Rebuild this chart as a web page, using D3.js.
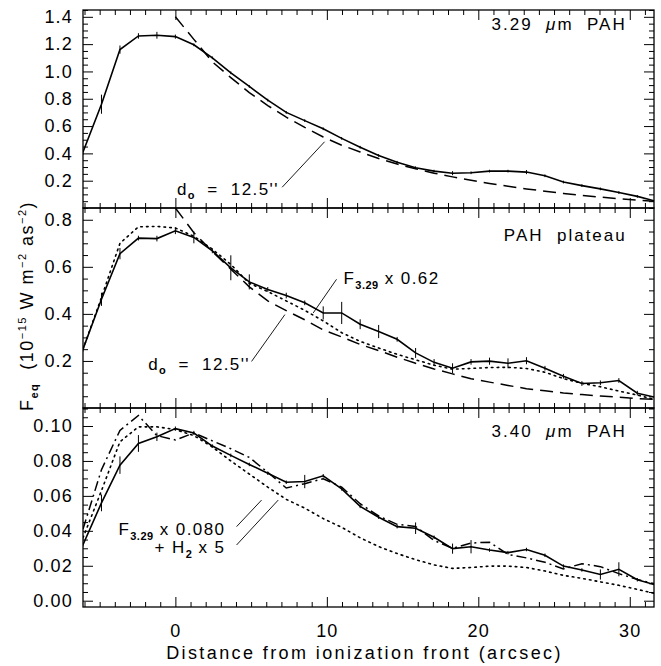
<!DOCTYPE html>
<html>
<head>
<meta charset="utf-8">
<script src="https://cdn.jsdelivr.net/npm/d3@7"></script>
<style>
html,body{margin:0;padding:0;background:#fff;}
svg{display:block;font-family:"Liberation Sans",Helvetica,Arial,sans-serif;}
.tick text{font-size:18px;letter-spacing:1.2px;fill:#000;}
.ann{font-size:17px;letter-spacing:2px;fill:#000;white-space:pre;}
.ann.note{letter-spacing:1.4px;}
</style>
</head>
<body>
<svg id="chart" width="661" height="666"></svg>
<script>
// ── DATA ──────────────────────────────────────────────────────────────────
// sample positions along the cut (arcsec), one every ~1.22"
var XPOS=[-6.10,-4.88,-3.66,-2.44,-1.22,0.00,1.22,2.44,3.66,4.88,6.10,7.32,8.54,9.76,10.98,12.20,
  13.42,14.64,15.86,17.08,18.30,19.52,20.74,21.96,23.18,24.40,25.62,26.84,28.06,29.28,30.50,31.72];
// model curve (d_o = 12.5") only defined from the front outwards
var XMOD=XPOS.slice(5);

// 3.29 um PAH
var PAH329=[0.41,0.76,1.16,1.26,1.265,1.255,1.195,1.10,0.99,0.89,0.79,0.70,0.64,0.58,0.51,0.445,
  0.385,0.335,0.295,0.27,0.255,0.258,0.27,0.27,0.263,0.236,0.19,0.164,0.14,0.113,0.085,0.05];
var PAH329_ERR=[0.02,0.07,0.03,0.02,0.025,0.015,0.01,0.01,0.01,0.01,0.01,0.01,0.01,0.01,0.01,0.01,
  0.01,0.01,0.01,0.01,0.015,0.01,0.01,0.01,0.015,0.01,0.01,0.01,0.01,0.01,0.01,0.01];
var PAH329_MOD=[1.40,1.235,1.07,0.955,0.845,0.75,0.665,0.59,0.52,0.46,0.41,0.362,0.322,0.287,0.255,
  0.228,0.203,0.18,0.159,0.14,0.123,0.107,0.093,0.08,0.068,0.057,0.048];

// PAH plateau
var PLAT=[0.25,0.462,0.656,0.722,0.72,0.753,0.725,0.668,0.596,0.536,0.504,0.478,0.447,0.404,0.404,0.356,
  0.325,0.292,0.234,0.194,0.169,0.196,0.199,0.19,0.201,0.169,0.135,0.104,0.107,0.117,0.063,0.045];
var PLAT_ERR=[0.01,0.028,0.024,0.01,0.012,0.014,0.025,0.01,0.053,0.032,0.01,0.012,0.01,0.028,0.047,0.021,
  0.028,0.01,0.021,0.014,0.021,0.012,0.015,0.021,0.015,0.01,0.01,0.01,0.01,0.01,0.01,0.01];
var PLAT_SCALED=[0.25,0.47,0.70,0.77,0.772,0.765,0.73,0.675,0.61,0.53,0.495,0.455,0.415,0.37,0.32,0.283,
  0.255,0.228,0.205,0.182,0.165,0.168,0.172,0.173,0.168,0.152,0.125,0.105,0.09,0.072,0.055,0.035];
var PLAT_MOD=[0.85,0.745,0.665,0.59,0.515,0.455,0.414,0.375,0.332,0.302,0.27,0.244,0.216,0.19,0.166,
  0.145,0.124,0.11,0.096,0.082,0.073,0.064,0.057,0.051,0.046,0.040,0.036];

// 3.40 um PAH
var PAH340=[0.032,0.056,0.0776,0.090,0.0938,0.0985,0.096,0.0885,0.0832,0.078,0.073,0.0678,0.0682,0.0715,
  0.064,0.054,0.0478,0.0424,0.0415,0.0363,0.0298,0.0309,0.029,0.0275,0.0293,0.026,0.0198,0.0176,0.015,
  0.018,0.012,0.009];
var PAH340_ERR=[0.001,0.0048,0.005,0.0048,0.0024,0.0012,0.0012,0.001,0.001,0.001,0.001,0.001,0.0038,0.001,
  0.001,0.001,0.001,0.001,0.0033,0.001,0.0029,0.0038,0.001,0.001,0.001,0.001,0.001,0.001,0.0029,0.004,
  0.001,0.001];
var PAH340_SCALED=[0.036,0.063,0.091,0.0995,0.0995,0.098,0.0945,0.088,0.080,0.0725,0.065,0.058,0.053,
  0.047,0.042,0.036,0.031,0.027,0.0235,0.0205,0.0185,0.019,0.0198,0.0198,0.019,0.017,0.0145,0.0128,
  0.0108,0.0088,0.0065,0.004];
var PAH340_SUM=[0.041,0.075,0.0975,0.106,0.0945,0.092,0.096,0.0915,0.087,0.082,0.0735,0.0645,0.067,
  0.0698,0.065,0.0555,0.0485,0.0437,0.0425,0.0345,0.030,0.033,0.0335,0.0265,0.0245,0.022,0.0182,
  0.0212,0.0195,0.0155,0.0122,0.0095];

// axes
var XDOMAIN=[-6.1,31.6];
var XTICKS=[0,10,20,30];
var TOP_YDOMAIN=[0,1.45], TOP_YTICKS=[0.2,0.4,0.6,0.8,1.0,1.2,1.4];
var MID_YDOMAIN=[0,0.85], MID_YTICKS=[0.2,0.4,0.6,0.8];
var BOT_YDOMAIN=[-0.0036,0.1103], BOT_YTICKS=[0,0.02,0.04,0.06,0.08,0.10];

// ── LAYOUT ────────────────────────────────────────────────────────────────
var L=83,R=654;
var svg=d3.select("#chart");
var x=d3.scaleLinear().domain(XDOMAIN).range([L,R]);

function range(a,b,s){var o=[];for(var v=a;v<=b+1e-9;v+=s)o.push(+v.toFixed(4));return o;}
function pts(xs,ys){return xs.map(function(v,i){return [v,ys[i]];});}

var DASH_LONG="13,7", DOTS="1.6,4.2", DASHDOT="10,4,2,4";

function panel(id,top,bot,ydom,yticks,yfmt,yminor,showX){
  var y=d3.scaleLinear().domain(ydom).range([bot,top]);
  var g=svg.append("g").attr("class","panel-"+id);
  svg.append("clipPath").attr("id","clip-"+id).append("rect")
    .attr("x",L).attr("y",top).attr("width",R-L).attr("height",bot-top);

  // minor then major ticks, all pointing inwards
  var xmin=range(-6,31,1).filter(function(v){return XTICKS.indexOf(v)<0;});
  g.append("g").attr("transform","translate(0,"+bot+")")
    .call(d3.axisBottom(x).tickValues(xmin).tickSize(-5).tickSizeOuter(0).tickFormat(""));
  g.append("g").attr("transform","translate(0,"+top+")")
    .call(d3.axisTop(x).tickValues(xmin).tickSize(-5).tickSizeOuter(0).tickFormat(""));
  g.append("g").attr("transform","translate(0,"+bot+")")
    .call(d3.axisBottom(x).tickValues(XTICKS).tickSize(-10).tickSizeOuter(0).tickPadding(17)
      .tickFormat(showX?d3.format("d"):""));
  g.append("g").attr("transform","translate(0,"+top+")")
    .call(d3.axisTop(x).tickValues(XTICKS).tickSize(-10).tickSizeOuter(0).tickFormat(""));

  var ymin=yminor.filter(function(v){return yticks.every(function(t){return Math.abs(t-v)>1e-6;});});
  g.append("g").attr("transform","translate("+L+",0)")
    .call(d3.axisLeft(y).tickValues(ymin).tickSize(-5).tickSizeOuter(0).tickFormat(""));
  g.append("g").attr("transform","translate("+R+",0)")
    .call(d3.axisRight(y).tickValues(ymin).tickSize(-5).tickSizeOuter(0).tickFormat(""));
  g.append("g").attr("transform","translate("+L+",0)")
    .call(d3.axisLeft(y).tickValues(yticks).tickSize(-10).tickSizeOuter(0).tickPadding(10).tickFormat(yfmt));
  g.append("g").attr("transform","translate("+R+",0)")
    .call(d3.axisRight(y).tickValues(yticks).tickSize(-10).tickSizeOuter(0).tickFormat(""));

  g.selectAll(".domain").remove();
  g.selectAll(".tick line").attr("stroke","#000").attr("stroke-width",1);
  g.append("rect").attr("x",L).attr("y",top).attr("width",R-L).attr("height",bot-top)
    .attr("fill","none").attr("stroke","#000").attr("stroke-width",1.3);

  var plot=g.append("g").attr("clip-path","url(#clip-"+id+")");
  return {y:y,g:g,plot:plot};
}

function curve(p,data,dash,w){
  var line=d3.line().x(function(d){return x(d[0]);}).y(function(d){return p.y(d[1]);});
  p.plot.append("path").datum(data).attr("d",line).attr("fill","none")
    .attr("stroke","#000").attr("stroke-width",w||1.5)
    .attr("stroke-dasharray",dash||null).attr("stroke-linecap",dash===DOTS?"round":"butt");
}
function errbars(p,xs,ys,es){
  p.plot.selectAll("line.err").data(xs).enter().append("line").attr("class","err")
    .attr("x1",function(d){return x(d);}).attr("x2",function(d){return x(d);})
    .attr("y1",function(d,i){return p.y(ys[i]-es[i]);})
    .attr("y2",function(d,i){return p.y(ys[i]+es[i]);})
    .attr("stroke","#000").attr("stroke-width",1);
}
// parts: {t:text, dy:shift, small:1 for subscripts, it:italic}
function label(p,xv,yv,anchor,parts,cls){
  var t=p.g.append("text").attr("class","ann"+(cls?" "+cls:"")).attr("x",x(xv)).attr("y",p.y(yv))
    .attr("text-anchor",anchor);
  parts.forEach(function(s){
    var ts=t.append("tspan").text(s.t);
    if(s.dy)ts.attr("dy",s.dy);
    if(s.small)ts.attr("font-size",11).attr("font-weight","bold").style("letter-spacing","0.5px");
    if(s.it)ts.attr("font-style","italic");
  });
  return t;
}
function pointer(p,a,b){
  p.g.append("line").attr("x1",x(a[0])).attr("y1",p.y(a[1])).attr("x2",x(b[0])).attr("y2",p.y(b[1]))
    .attr("stroke","#000").attr("stroke-width",0.9);
}

var f1=d3.format(".1f"), f2=d3.format(".2f");

// ── TOP : 3.29 um PAH ─────────────────────────────────────────────────────
var pTop=panel("top",10,208,TOP_YDOMAIN,TOP_YTICKS,f1,range(0,1.45,0.05),false);
curve(pTop,pts(XMOD,PAH329_MOD),DASH_LONG,1.5);
curve(pTop,pts(XPOS,PAH329),null,1.6);
errbars(pTop,XPOS,PAH329,PAH329_ERR);
label(pTop,29.8,1.30,"end",[{t:"3.29  "},{t:"\u03bc",it:1},{t:"m  PAH"}]);
label(pTop,0.1,0.095,"start",[{t:"d"},{t:"o",dy:4,small:1},{t:"  =  12.5''",dy:-4}],"note");
pointer(pTop,[7.05,0.152],[9.85,0.485]);

// ── MIDDLE : PAH plateau ──────────────────────────────────────────────────
var pMid=panel("mid",208,408,MID_YDOMAIN,MID_YTICKS,f1,range(0,0.85,0.05),false);
curve(pMid,pts(XMOD,PLAT_MOD),DASH_LONG,1.5);
curve(pMid,pts(XPOS,PLAT_SCALED),DOTS,1.6);
curve(pMid,pts(XPOS,PLAT),null,1.6);
errbars(pMid,XPOS,PLAT,PLAT_ERR);
label(pMid,29.8,0.71,"end",[{t:"PAH  plateau"}]);
label(pMid,11.1,0.526,"start",[{t:"F"},{t:"3.29",dy:5,small:1},{t:" x 0.62",dy:-5}],"note");
pointer(pMid,[10.64,0.547],[9.1,0.404]);
label(pMid,-1.8,0.162,"start",[{t:"d"},{t:"o",dy:4,small:1},{t:"  =  12.5''",dy:-4}],"note");
pointer(pMid,[5.03,0.198],[7.23,0.397]);

// ── BOTTOM : 3.40 um PAH ──────────────────────────────────────────────────
var pBot=panel("bot",408,607,BOT_YDOMAIN,BOT_YTICKS,f2,range(0,0.11,0.005),true);
curve(pBot,pts(XPOS,PAH340_SCALED),DOTS,1.6);
curve(pBot,pts(XPOS,PAH340_SUM),DASHDOT,1.5);
curve(pBot,pts(XPOS,PAH340),null,1.6);
errbars(pBot,XPOS,PAH340,PAH340_ERR);
label(pBot,29.8,0.0935,"end",[{t:"3.40  "},{t:"\u03bc",it:1},{t:"m  PAH"}]);
label(pBot,3.3,0.0376,"end",[{t:"F"},{t:"3.29",dy:5,small:1},{t:" x 0.080",dy:-5}],"note");
label(pBot,3.3,0.0271,"end",[{t:"+ H"},{t:"2",dy:5,small:1},{t:" x 5",dy:-5}],"note");
pointer(pBot,[4.04,0.0424],[5.69,0.0576]);
pointer(pBot,[4.04,0.0319],[6.79,0.0576]);

// ── AXIS TITLES ───────────────────────────────────────────────────────────
svg.append("text").attr("class","ann").attr("x",(L+R)/2-4).attr("y",659).attr("text-anchor","middle")
  .style("font-size","18px").style("letter-spacing","2.4px")
  .text("Distance from ionization front (arcsec)");

var yt=svg.append("text").attr("class","ann").attr("text-anchor","middle")
  .attr("transform","translate(33,306) rotate(-90)").style("font-size","18px").style("letter-spacing","1.5px");
yt.append("tspan").text("F");
yt.append("tspan").text("eq").attr("dy",5).attr("font-size",11).attr("font-weight","bold");
yt.append("tspan").text("  (10").attr("dy",-5);
yt.append("tspan").text("\u221215").attr("dy",-7).attr("font-size",11);
yt.append("tspan").text(" W m").attr("dy",7);
yt.append("tspan").text("\u22122").attr("dy",-7).attr("font-size",11);
yt.append("tspan").text(" as").attr("dy",7);
yt.append("tspan").text("\u22122").attr("dy",-7).attr("font-size",11);
yt.append("tspan").text(")").attr("dy",7);
</script>
</body>
</html>
